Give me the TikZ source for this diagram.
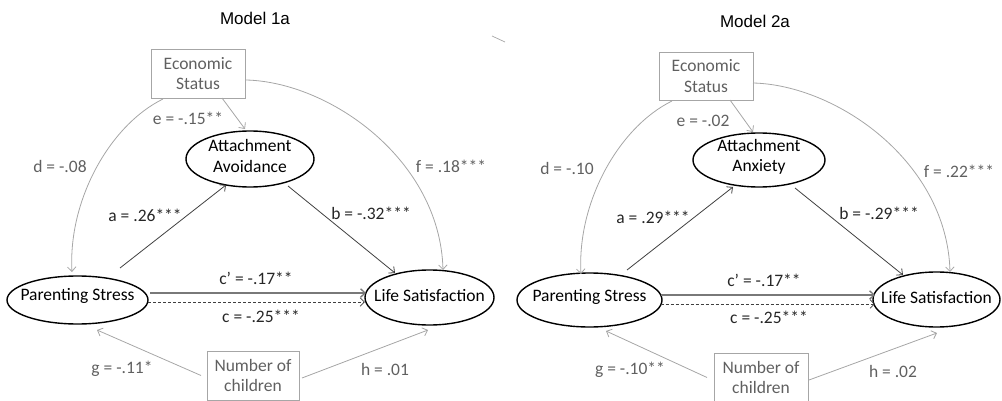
\documentclass[tikz,border=0pt]{standalone}
\usepackage{fontspec}
\setmainfont{Carlito}
\newfontfamily\titlefont{Liberation Sans}
\usetikzlibrary{arrows.meta,calc,shapes.geometric}
\definecolor{labgray}{HTML}{606060}
\definecolor{linegray}{HTML}{A6A6A6}
\definecolor{boxgray}{HTML}{A6A6A6}
\definecolor{darkline}{HTML}{404040}
\begin{document}
\begin{tikzpicture}[x=1pt,y=-1pt,
  font=\fontsize{17.5}{20.5}\selectfont,
  oval/.style={ellipse, draw=black, line width=1.4pt, inner sep=0pt},
  etext/.style={align=center, inner sep=0pt, text=black},
  ctrlbox/.style={rectangle, draw=boxgray, line width=0.8pt, inner sep=0pt, align=center, text=labgray},
  lab/.style={text=labgray, inner sep=0pt},
  blab/.style={text=black!85, inner sep=0pt},
  tip/.style={-{Straight Barb[length=4.5pt,width=8.5pt]}},
  ctrlarr/.style={draw=linegray, line width=0.8pt, tip},
  patharr/.style={draw=darkline, line width=0.8pt, tip},
  titletext/.style={font=\titlefont\fontsize{17}{20}\selectfont, text=black, inner sep=0pt}
]
\useasboundingbox (0,0) rectangle (1002,401);

% ================= Model 1a =================
\node[titletext] (t1) at (255,18) {Model 1a};
\node[ctrlbox, minimum width=94pt, minimum height=49pt] (es1) at (198,73.5) {Economic\\Status};
\node[ctrlbox, minimum width=92pt, minimum height=49pt] (nc1) at (253,375.5) {Number of\\children};
\node[oval, minimum width=128pt, minimum height=56pt] (aa1) at (250,159) {};
\node[etext] (aa1t) at (250,156) {Attachment\\Avoidance};
\node[oval, minimum width=141pt, minimum height=48pt] (ps1) at (77.5,300) {};
\node[etext] (ps1t) at (77.5,296) {Parenting Stress};
\node[oval, minimum width=129pt, minimum height=55pt] (ls1) at (429.5,297.5) {};
\node[etext] (ls1t) at (429.5,296) {Life Satisfaction};

\draw[patharr] ($(ps1.center)+(42.5,-32)$) -- ($(aa1.center)+(-24,26)$);
\draw[patharr] ($(aa1.center)+(38,27)$) -- ($(ls1.center)+(-34.5,-24.5)$);
\draw[draw=darkline!70, line width=1.3pt, tip] ($(ps1.center)+(72.5,-7)$) -- ($(ls1.center)+(-63.5,-4.5)$);
\draw[draw=darkline, line width=0.7pt, dashed, dash pattern=on 3pt off 2pt, tip] ($(ps1.center)+(70.5,2)$) -- ($(ls1.center)+(-64.5,4.5)$);
\draw[ctrlarr] ($(es1.center)+(24,24.5)$) -- ($(aa1.center)+(-5,-30)$);
\draw[ctrlarr] ($(es1.center)+(-35,25.5)$) .. controls +(-53,26) and +(-4,-72) .. ($(ps1.center)+(-5.5,-28)$);
\draw[ctrlarr] ($(es1.center)+(48,6.5)$) .. controls +(84,2) and +(-3,-110) .. ($(ls1.center)+(13.5,-27.5)$);
\draw[ctrlarr] ($(nc1.center)+(-52,0)$) -- ($(ps1.center)+(19.5,30)$);
\draw[ctrlarr] ($(nc1.center)+(49,2.5)$) -- ($(ls1.center)+(-1.5,32.5)$);

\node[lab] (d1) at (60,166) {d = -.08};
\node[lab] (e1) at (188,118) {e = -.15**};
\node[lab] (f1) at (451,166) {f = .18***};
\node[blab] (a1) at (145,215) {a = .26***};
\node[blab] (b1) at (371,213) {b = -.32***};
\node[blab] (cp1) at (256,278) {c’ = -.17**};
\node[blab] (c1) at (261,316) {c = -.25***};
\node[lab] (g1) at (122,369) {g = -.11*};
\node[lab] (h1) at (385,369) {h = .01};

% stray mark
\draw[draw=linegray, line width=0.7pt] (492,36) -- (505,42);

% ================= Model 2a =================
\node[titletext] (t2) at (755,21) {Model 2a};
\node[ctrlbox, minimum width=94pt, minimum height=48pt] (es2) at (706,76) {Economic\\Status};
\node[ctrlbox, minimum width=94pt, minimum height=49pt] (nc2) at (761,377.5) {Number of\\children};
\node[oval, minimum width=132pt, minimum height=54pt] (ax2) at (759,160) {};
\node[etext] (ax2t) at (759,157) {Attachment\\Anxiety};
\node[oval, minimum width=145pt, minimum height=54pt] (ps2) at (589.5,300) {};
\node[etext] (ps2t) at (589.5,297) {Parenting Stress};
\node[oval, minimum width=127pt, minimum height=55pt] (ls2) at (936.5,299.5) {};
\node[etext] (ls2t) at (936.5,298) {Life Satisfaction};

\draw[patharr] ($(ps2.center)+(37.5,-30)$) -- ($(ax2.center)+(-26,27)$);
\draw[patharr] ($(ax2.center)+(36,28)$) -- ($(ls2.center)+(-33.5,-24.5)$);
\draw[draw=darkline!70, line width=1.3pt, tip] ($(ps2.center)+(71,-5)$) -- ($(ls2.center)+(-61.5,-4.5)$);
\draw[draw=darkline, line width=0.7pt, dashed, dash pattern=on 3pt off 2pt, tip] ($(ps2.center)+(71,4)$) -- ($(ls2.center)+(-61.5,4.5)$);
\draw[ctrlarr] ($(es2.center)+(24,24)$) -- ($(ax2.center)+(-6,-28)$);
\draw[ctrlarr] ($(es2.center)+(-34,25)$) .. controls +(-53,26) and +(-4,-72) .. ($(ps2.center)+(-8.5,-26)$);
\draw[ctrlarr] ($(es2.center)+(47,7)$) .. controls +(84,2) and +(-3,-110) .. ($(ls2.center)+(13.5,-27.5)$);
\draw[ctrlarr] ($(nc2.center)+(-54,0)$) -- ($(ps2.center)+(16.5,31)$);
\draw[ctrlarr] ($(nc2.center)+(48,2.5)$) -- ($(ls2.center)+(0.5,33.5)$);

\node[lab] (d2) at (567,168) {d = -.10};
\node[lab] (e2) at (703,121) {e = -.02};
\node[lab] (f2) at (959,171) {f = .22***};
\node[blab] (a2) at (653,217) {a = .29***};
\node[blab] (b2) at (879,213) {b = -.29***};
\node[blab] (cp2) at (764,280) {c’ = -.17**};
\node[blab] (c2) at (769,317) {c = -.25***};
\node[lab] (g2) at (630,370) {g = -.10**};
\node[lab] (h2) at (893,371) {h = .02};
\end{tikzpicture}
\end{document}
